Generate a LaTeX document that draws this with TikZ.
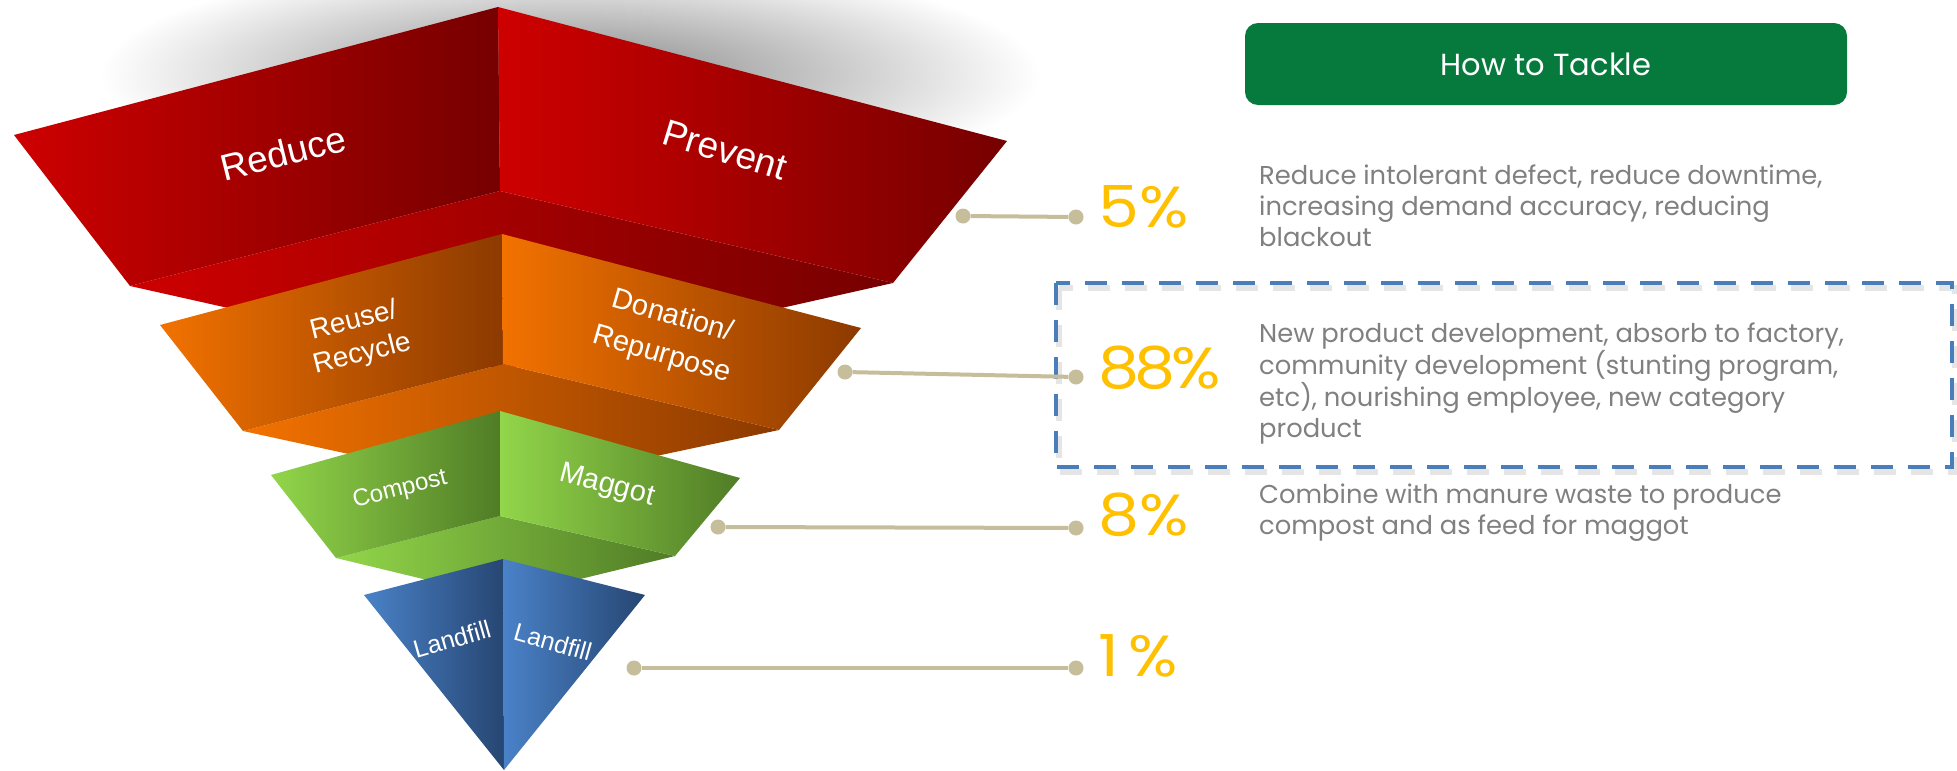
\documentclass[tikz,border=0pt]{standalone}
\usepackage{fontspec}
\newfontfamily\pop{Poppins}
\newfontfamily\popw[FakeStretch=1.12]{Poppins}
\newfontfamily\ars{Liberation Sans}
\definecolor{redL}{RGB}{206,0,0}
\definecolor{redD}{RGB}{118,0,0}
\definecolor{orL}{RGB}{242,114,0}
\definecolor{orD}{RGB}{140,58,0}
\definecolor{grL}{RGB}{146,214,74}
\definecolor{grD}{RGB}{80,124,38}
\definecolor{blL}{RGB}{74,130,200}
\definecolor{blD}{RGB}{38,70,114}
\definecolor{tanc}{RGB}{198,189,155}
\definecolor{goldc}{RGB}{255,192,0}
\definecolor{descgray}{RGB}{128,128,128}
\definecolor{hgreen}{RGB}{5,122,60}
\definecolor{dashblue}{RGB}{74,126,187}
\begin{document}
\begin{tikzpicture}[x=1pt,y=-1pt,
  lbl/.style={text=white, inner sep=0pt},
  pct/.style={text=goldc, inner sep=0pt, anchor=west, font=\popw\fontsize{58}{58}\selectfont},
  desc/.style={text=descgray, inner sep=0pt, anchor=base west, align=left, font=\pop\fontsize{25.8}{30.6}\selectfont},
  conndot/.style={circle, fill=tanc, inner sep=0pt, minimum size=15pt},
  conn/.style={draw=tanc, line width=4pt}]
\useasboundingbox (0,0) rectangle (1957,771);
\fill[white] (0,0) rectangle (1957,771);
% geometry
\coordinate (A1) at (498,7);   \coordinate (L1) at (14,135);  \coordinate (R1) at (1007,141);
\coordinate (C1) at (500,191); \coordinate (LB1) at (130,286); \coordinate (RB1) at (893,283);
\coordinate (D1) at (505,370);
\coordinate (A2) at (502,234); \coordinate (L2) at (160,325); \coordinate (R2) at (861,328);
\coordinate (C2) at (503,364); \coordinate (LB2) at (243,431); \coordinate (RB2) at (779,430);
\coordinate (D2) at (505,488);
\coordinate (A3) at (500,411); \coordinate (L3) at (271,475); \coordinate (R3) at (740,478);
\coordinate (C3) at (500,516); \coordinate (LB3) at (336,558); \coordinate (RB3) at (675,556);
\coordinate (D3) at (502,598);
\coordinate (A4) at (503,559); \coordinate (L4) at (364,595); \coordinate (R4) at (645,595);
\coordinate (T4) at (504,770);
% soft shadow above the funnel
\shade[inner color=black!48, outer color=white] (570,75) ellipse (470pt and 118pt);
% red layer
\shade[left color=redL, right color=redD] (LB1) -- (C1) -- (RB1) -- (D1) -- cycle;
\shade[left color=redL, right color=redD] (A1) -- (L1) -- (LB1) -- (C1) -- cycle;
\shade[left color=redL, right color=redD] (A1) -- (C1) -- (RB1) -- (R1) -- cycle;
% orange layer
\shade[left color=orL, right color=orD] (LB2) -- (C2) -- (RB2) -- (D2) -- cycle;
\shade[left color=orL, right color=orD] (A2) -- (L2) -- (LB2) -- (C2) -- cycle;
\shade[left color=orL, right color=orD] (A2) -- (C2) -- (RB2) -- (R2) -- cycle;
% green layer
\shade[left color=grL, right color=grD] (LB3) -- (C3) -- (RB3) -- (D3) -- cycle;
\shade[left color=grL, right color=grD] (A3) -- (L3) -- (LB3) -- (C3) -- cycle;
\shade[left color=grL, right color=grD] (A3) -- (C3) -- (RB3) -- (R3) -- cycle;
% blue layer
\shade[left color=blL, right color=blD] (A4) -- (L4) -- (T4) -- cycle;
\shade[left color=blL, right color=blD] (A4) -- (T4) -- (R4) -- cycle;
% labels
\node[lbl, font=\ars\fontsize{37}{37}\selectfont, rotate=14] (reduce) at (283,153) {Reduce};
\node[lbl, font=\ars\fontsize{37}{37}\selectfont, rotate=-17] (prevent) at (725,150) {Prevent};
\node[lbl, align=center, font=\ars\fontsize{28}{34}\selectfont, rotate=14] (reuse) at (358,338) {Reuse/\\Recycle};
\node[lbl, align=center, font=\ars\fontsize{29}{40}\selectfont, rotate=-16] (donation) at (667,336) {Donation/\\Repurpose};
\node[lbl, font=\ars\fontsize{24}{24}\selectfont, rotate=14] (compost) at (400,490) {Compost};
\node[lbl, font=\ars\fontsize{29}{29}\selectfont, rotate=-15] (maggot) at (607,486) {Maggot};
\node[lbl, font=\ars\fontsize{25}{25}\selectfont, rotate=16] (landfillL) at (452,639) {Landfill};
\node[lbl, font=\ars\fontsize{25}{25}\selectfont, rotate=-16] (landfillR) at (553,642) {Landfill};
% highlight box
\draw[black!10, line width=6pt, dash pattern=on 22pt off 15pt] (1059,288) rectangle (1955,472);
\draw[dashblue, line width=4.5pt, dash pattern=on 22pt off 15pt] (1056,283) rectangle (1952,467);
% connectors
\node[conndot] (d1a) at (963,216) {};
\node[conndot] (d1b) at (1076,217) {};
\node[conndot] (d2a) at (845,372) {};
\node[conndot] (d2b) at (1076,377) {};
\node[conndot] (d3a) at (718,527) {};
\node[conndot] (d3b) at (1076,528) {};
\node[conndot] (d4a) at (634,668) {};
\node[conndot] (d4b) at (1076,668) {};
\draw[conn] (d1a) -- (d1b);
\draw[conn] (d2a) -- (d2b);
\draw[conn] (d3a) -- (d3b);
\draw[conn] (d4a) -- (d4b);
% percentages
\node[pct] (p1) at (1098,207) {5\%};
\node[pct] (p2) at (1098,368) {8\kern-5pt 8\kern-4pt\%};
\node[pct] (p3) at (1098,515) {8\%};
\node[pct] (p4) at (1098,656) {\makebox[30pt][l]{1}\%};
% header
\node[fill=hgreen, rounded corners=13pt, minimum width=602pt, minimum height=82pt, text=white, font=\pop\fontsize{30.5}{30.5}\selectfont] (head) at (1546,64) {How to Tackle};
% descriptions (anchored at the baseline of their last line)
\node[desc] (t1) at (1259,246) {Reduce intolerant defect, reduce downtime,\\increasing demand accuracy, reducing\\blackout};
\node[desc] (t2) at (1259,437) {New product development, absorb to factory,\\community development (stunting program,\\etc), nourishing employee, new category\\product};
\node[desc] (t3) at (1259,534) {Combine with manure waste to produce\\compost and as feed for maggot};
\end{tikzpicture}
\end{document}
